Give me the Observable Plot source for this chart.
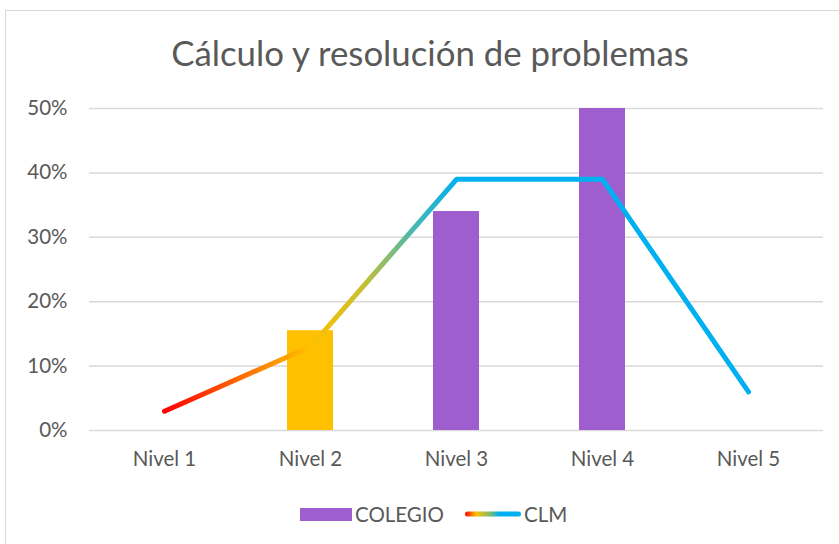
<!DOCTYPE html>
<html>
<head>
<meta charset="utf-8">
<script src="https://cdn.jsdelivr.net/npm/d3@7"></script>
<script src="https://cdn.jsdelivr.net/npm/@observablehq/plot@0.6"></script>
<style>
  html, body { margin: 0; padding: 0; background: #fff; }
  body { width: 839px; height: 544px; position: relative; overflow: hidden; font-family: Lato, "Open Sans", sans-serif; }
  #frame { position: absolute; left: 5px; top: 10px; width: 840px; height: 540px; border: 1px solid #d9d9d9; box-sizing: border-box; }
  #title { position: absolute; left: 0; width: 860px; top: 32px; text-align: center; font-size: 34.8px; color: #595959; }
  #chart { position: absolute; left: 0; top: 0; }
  #legend { position: absolute; top: 502px; left: 300px; display: flex; align-items: center; font-size: 20.5px; color: #595959; }
  #legend .item { display: flex; align-items: center; }
</style>
</head>
<body>
<div id="frame"></div>
<div id="title">Cálculo y resolución de problemas</div>
<div id="chart"></div>
<div id="legend"></div>
<script>
const categories = ["Nivel 1", "Nivel 2", "Nivel 3", "Nivel 4", "Nivel 5"];
const colegio = [0, 0.155, 0.34, 0.50, 0];
const clm = [0.03, 0.13, 0.39, 0.39, 0.06];
const barColors = ["#9E5ECE", "#FFC000", "#9E5ECE", "#9E5ECE", "#9E5ECE"];
const yTicks = [0, 0.1, 0.2, 0.3, 0.4, 0.5];
const seriesNames = ["COLEGIO", "CLM"];

const barData = categories.map((c, i) => ({cat: c, v: colegio[i], color: barColors[i]})).filter(d => d.v > 0);
const lineData = categories.map((c, i) => ({cat: c, v: clm[i]}));

const plot = Plot.plot({
  width: 839,
  height: 544,
  marginTop: 108,
  marginBottom: 114,
  marginLeft: 89,
  marginRight: 16,
  style: {fontFamily: "Lato, 'Open Sans', sans-serif", fontSize: "20.5px", color: "#595959", background: "transparent"},
  x: {domain: categories, padding: 0, label: null, tickSize: 0, tickPadding: 21},
  y: {domain: [0, 0.5], ticks: yTicks, tickFormat: d3.format(".0%"), label: null, tickSize: 0, tickPadding: 22},
  marks: [
    Plot.ruleY(yTicks, {stroke: "#d9d9d9", strokeWidth: 1.5}),
    Plot.barY(barData, {x: "cat", y: "v", fill: "color", insetLeft: 50, insetRight: 50}),
    Plot.line(lineData, {x: "cat", y: "v", stroke: "url(#clmGrad)", strokeWidth: 5, strokeLinecap: "round", strokeLinejoin: "round"})
  ]
});

// gradient along x, positioned via the plot's own x scale (line group is already offset by half a band)
const xs = plot.scale("x");
const x1 = xs.apply(categories[0]);
const x2 = xs.apply(categories[2]);
const ns = "http://www.w3.org/2000/svg";
const defs = document.createElementNS(ns, "defs");
const grad = document.createElementNS(ns, "linearGradient");
grad.setAttribute("id", "clmGrad");
grad.setAttribute("gradientUnits", "userSpaceOnUse");
grad.setAttribute("x1", x1); grad.setAttribute("x2", x2);
grad.setAttribute("y1", 0); grad.setAttribute("y2", 0);
const stops = [[0, "#FF0000"], [0.3, "#FF7A00"], [0.5, "#FFC000"], [0.68, "#C8C030"], [0.85, "#4BB8B0"], [1, "#00B0F0"]];
for (const [o, c] of stops) {
  const s = document.createElementNS(ns, "stop");
  s.setAttribute("offset", o); s.setAttribute("stop-color", c);
  grad.appendChild(s);
}
defs.appendChild(grad);
plot.insertBefore(defs, plot.firstChild);
document.getElementById("chart").appendChild(plot);

// legend
const legend = document.getElementById("legend");
legend.innerHTML = `
  <div class="item"><span style="display:inline-block;width:52px;height:13px;background:#9E5ECE;margin-right:3px"></span>${seriesNames[0]}</div>
  <div class="item" style="margin-left:20px"><svg width="58" height="10" style="margin-right:2px"><defs><linearGradient id="lg2" gradientUnits="userSpaceOnUse" x1="1" y1="0" x2="57" y2="0"><stop offset="0" stop-color="#FF0000"/><stop offset="0.2" stop-color="#FFC000"/><stop offset="0.45" stop-color="#7DBB70"/><stop offset="0.6" stop-color="#00B0F0"/><stop offset="1" stop-color="#00B0F0"/></linearGradient></defs><rect x="1" y="2.5" width="56" height="5" rx="2.5" fill="url(#lg2)"/></svg>${seriesNames[1]}</div>`;
</script>
</body>
</html>
